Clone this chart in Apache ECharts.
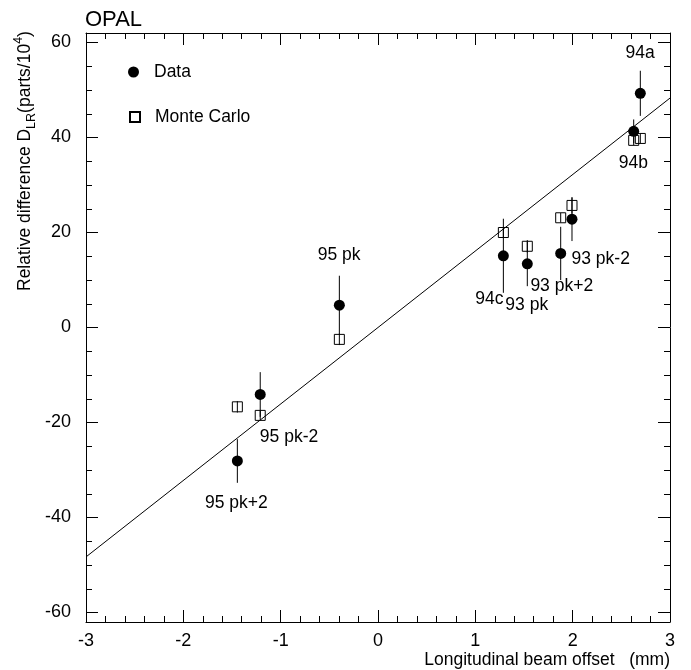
<!DOCTYPE html>
<html>
<head>
<meta charset="utf-8">
<script src="https://cdn.jsdelivr.net/npm/echarts@6/dist/echarts.min.js"></script>
<style>html,body{margin:0;padding:0;background:#fff}#c{width:691px;height:670px}</style>
</head>
<body>
<div id="c"></div>
<script>
// ---- data ----
const categories = ['95 pk+2', '95 pk-2', '95 pk', '94c', '93 pk', '93 pk+2', '93 pk-2', '94b', '94a'];
const beamOffset = [-1.445, -1.21, -0.397, 1.288, 1.534, 1.877, 1.993, 2.627, 2.695];
const dataValues = [-28.1, -14.1, 4.7, 15.1, 13.4, 15.6, 22.8, 41.3, 49.3];
const dataErrors = [4.6, 4.7, 6.2, 7.8, 4.7, 5.6, 4.6, 2.5, 4.75];
const mcValues = [-16.7, -18.5, -2.5, 20.0, 17.1, 23.1, 25.7, 39.4, 39.8];
const mcErrors = [1.2, 1.0, 1.2, 1.0, 1.3, 1.0, 1.7, 1.0, 1.0];
const labelX = [-1.455, -0.914, -0.40, 1.144, 1.528, 1.888, 2.288, 2.623, 2.692];
const labelY = [-36.9, -23.1, 15.2, 5.9, 4.7, 8.7, 14.3, 34.5, 57.7];
const fitX = [-3, 3];
const fitY = [-48.3, 48.3];
const yMajorTicks = [-60, -40, -20, 0, 20, 40, 60];
const yMinorTicks = [-60, -55, -50, -45, -40, -35, -30, -25, -20, -15, -10, -5, 0, 5, 10, 15, 20, 25, 30, 35, 40, 45, 50, 55, 60];

const FONT = '"Liberation Sans", Arial, Helvetica, sans-serif';
const chart = echarts.init(document.getElementById('c'), null, {renderer: 'canvas'});

function errRender(params, api) {
  const x = api.value(0), y = api.value(1), e = api.value(2);
  const p1 = api.coord([x, y - e]);
  const p2 = api.coord([x, y + e]);
  return {
    type: 'line',
    shape: {x1: p1[0], y1: p1[1], x2: p2[0], y2: p2[1]},
    style: {stroke: '#000', lineWidth: 1}
  };
}

const black = {color: '#000', width: 1};
function xAx(pos, labels) {
  return {
    type: 'value', min: -3, max: 3, interval: 1, position: pos,
    axisLine: {show: true, onZero: false, lineStyle: black},
    axisTick: {show: true, inside: true, length: 12, lineStyle: black},
    minorTick: {show: true, splitNumber: 5, length: 6, lineStyle: black},
    splitLine: {show: false}, minorSplitLine: {show: false},
    axisLabel: {show: labels, color: '#000', fontSize: 18, fontFamily: FONT, margin: 10,
      formatter: v => String(v)}
  };
}
function yAx(pos, major, labels, line) {
  return {
    type: 'value', min: -62, max: 62, position: pos,
    axisLine: {show: line, onZero: false, lineStyle: black},
    axisTick: {show: true, inside: true, length: major ? 12 : 6, lineStyle: black,
      customValues: major ? yMajorTicks : yMinorTicks},
    splitLine: {show: false},
    axisLabel: {show: labels, color: '#000', fontSize: 18, fontFamily: FONT, margin: 15,
      customValues: yMajorTicks, formatter: v => String(v)}
  };
}

const option = {
  animation: false,
  backgroundColor: '#fff',
  title: {text: 'OPAL', left: 85, top: 9, padding: 0,
    textStyle: {fontFamily: FONT, fontSize: 22, fontWeight: 'normal', color: '#000'}},
  grid: {left: 86, right: 21, top: 33, bottom: 48, containLabel: false},
  legend: [
    {data: ['Data'], orient: 'vertical', left: 128, top: 63, padding: 0, itemWidth: 11, itemHeight: 11,
      textStyle: {fontFamily: FONT, fontSize: 17.5, color: '#000', padding: [0, 0, 0, 10]}, selectedMode: false},
    {data: ['Monte Carlo'], orient: 'vertical', left: 129, top: 108, padding: 0, itemWidth: 10, itemHeight: 10,
      textStyle: {fontFamily: FONT, fontSize: 17.5, color: '#000', padding: [0, 0, 0, 10]}, selectedMode: false}
  ],
  xAxis: [
    Object.assign(xAx('bottom', true), {
      name: 'Longitudinal beam offset   (mm)', nameLocation: 'end', nameGap: 0,
      nameTextStyle: {fontFamily: FONT, fontSize: 17.5, color: '#000', align: 'right', verticalAlign: 'top', padding: [29, 0, 0, 0]}
    }),
    xAx('top', false)
  ],
  yAxis: [
    yAx('left', true, true, true),
    yAx('left', false, false, false),
    yAx('right', true, false, true),
    yAx('right', false, false, false)
  ],
  graphic: [{
    type: 'text', x: 25, y: 291, rotation: Math.PI / 2,
    style: {
      text: '{n|Relative difference D}{sub|LR}{n|(parts/10}{sup|4}{n|)}',
      fill: '#000',
      verticalAlign: 'middle', align: 'left',
      rich: {
        n: {fontFamily: FONT, fontSize: 17.5, lineHeight: 26, verticalAlign: 'middle', fill: '#000'},
        sub: {fontFamily: FONT, fontSize: 12.5, lineHeight: 12, verticalAlign: 'bottom', fill: '#000'},
        sup: {fontFamily: FONT, fontSize: 12.5, lineHeight: 12, verticalAlign: 'top', fill: '#000'}
      }
    }
  }],
  series: [
    {
      name: 'fit', type: 'line', xAxisIndex: 0, yAxisIndex: 0,
      data: fitX.map((x, i) => [x, fitY[i]]),
      showSymbol: false, symbol: 'none', lineStyle: {color: '#000', width: 1}, silent: true, z: 1
    },
    {
      name: 'dataErr', type: 'custom', xAxisIndex: 0, yAxisIndex: 0,
      data: beamOffset.map((x, i) => [x, dataValues[i], dataErrors[i]]),
      renderItem: errRender, encode: {x: 0, y: 1}, z: 2, silent: true
    },
    {
      name: 'mcErr', type: 'custom', xAxisIndex: 0, yAxisIndex: 0,
      data: beamOffset.map((x, i) => [x, mcValues[i], mcErrors[i]]),
      renderItem: errRender, encode: {x: 0, y: 1}, z: 2, silent: true
    },
    {
      name: 'Monte Carlo', type: 'scatter', xAxisIndex: 0, yAxisIndex: 0,
      symbol: 'rect', symbolSize: 10,
      itemStyle: {color: 'rgba(255,255,255,0)', borderColor: '#000', borderWidth: 1, opacity: 1},
      data: beamOffset.map((x, i) => [x, mcValues[i]]), z: 3
    },
    {
      name: 'Data', type: 'scatter', xAxisIndex: 0, yAxisIndex: 0,
      symbol: 'circle', symbolSize: 11,
      itemStyle: {color: '#000', opacity: 1},
      data: beamOffset.map((x, i) => [x, dataValues[i]]), z: 4
    },
    {
      name: 'labels', type: 'scatter', xAxisIndex: 0, yAxisIndex: 0,
      symbolSize: 0, silent: true, z: 5, itemStyle: {color: 'transparent', opacity: 1},
      data: categories.map((c, i) => ({name: c, value: [labelX[i], labelY[i]]})),
      label: {show: true, position: 'inside', formatter: p => p.name, color: '#000', opacity: 1,
        textBorderWidth: 0, textBorderColor: 'transparent', textShadowBlur: 0,
        fontFamily: FONT, fontSize: 17.5}
    }
  ]
};
chart.setOption(option);
</script>
</body>
</html>
